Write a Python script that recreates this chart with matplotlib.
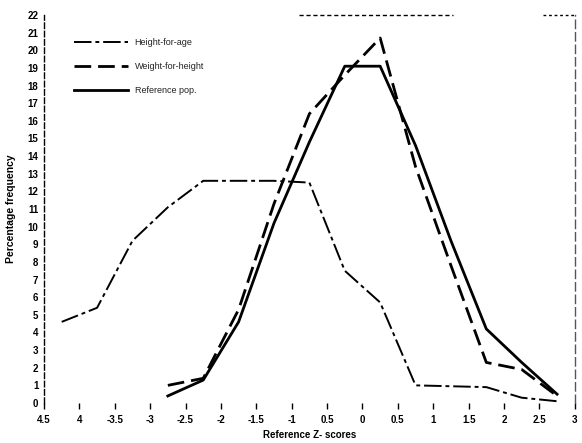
import matplotlib
matplotlib.use("Agg")
import matplotlib.pyplot as plt

plt.rcParams['font.family'] = ['Liberation Sans', 'DejaVu Sans']

# Data (bin midpoints of reference Z-scores)
hfa_z = [-4.25, -3.75, -3.25, -2.75, -2.25, -1.75, -1.25, -0.75, -0.25, 0.25, 0.75, 1.75, 2.25, 2.75]
hfa_v = [4.6, 5.4, 9.2, 11.1, 12.6, 12.6, 12.6, 12.5, 7.5, 5.7, 1.0, 0.9, 0.3, 0.1]

wfh_z = [-2.75, -2.25, -1.75, -1.25, -0.75, -0.25, 0.25, 0.75, 1.25, 1.75, 2.25, 2.75]
wfh_v = [1.0, 1.4, 5.3, 11.3, 16.4, 18.6, 20.7, 13.4, 7.8, 2.3, 1.9, 0.4]

ref_z = [-2.75, -2.25, -1.75, -1.25, -0.75, -0.25, 0.25, 0.75, 1.25, 1.75, 2.25, 2.75]
ref_v = [0.4, 1.3, 4.6, 10.2, 14.8, 19.1, 19.1, 14.6, 9.2, 4.2, 2.3, 0.5]

xticks = [-4.5, -4, -3.5, -3, -2.5, -2, -1.5, -1, -0.5, 0, 0.5, 1, 1.5, 2, 2.5, 3]
xtick_labels = ["4.5", "4", "-3.5", "-3", "-2.5", "-2", "-1.5", "-1", "0.5", "0",
                "0.5", "1", "1.5", "2", "2.5", "3"]
yticks = list(range(0, 23))

fig = plt.figure(figsize=(5.82, 4.43), dpi=100)
ax = fig.add_axes([0.0756, 0.0903, 0.912, 0.8757])

l1, = ax.plot(hfa_z, hfa_v, color='black', lw=1.4, dashes=(9, 2, 2, 2), label='Height-for-age')
l2, = ax.plot(wfh_z, wfh_v, color='black', lw=2.0, dashes=(6, 2.5), label='Weight-for-height')
l3, = ax.plot(ref_z, ref_v, color='black', lw=2.0, label='Reference pop.')

ax.set_xlim(-4.5, 3)
ax.set_ylim(0, 22)
ax.set_xticks(xticks)
ax.set_xticklabels(xtick_labels)
ax.set_yticks(yticks)
ax.tick_params(axis='x', length=4, width=1, pad=5, labelsize=7)
ax.tick_params(axis='y', length=0, pad=4, labelsize=7)
for lab in ax.get_xticklabels() + ax.get_yticklabels():
    lab.set_fontweight('bold')

ax.spines['bottom'].set_visible(False)
ax.spines['top'].set_visible(False)
ax.spines['left'].set_linestyle((0, (4, 2)))
ax.spines['left'].set_linewidth(1.0)
ax.spines['right'].set_linestyle((0, (6, 3)))
ax.spines['right'].set_color('#555555')
ax.spines['right'].set_linewidth(1.0)

# partial dotted top border (scan artefact)
ax.plot([0.48, 0.77], [1.0, 1.0], transform=ax.transAxes, color='black', lw=1.0,
        dashes=(3, 2), clip_on=False)
ax.plot([0.94, 1.0], [1.0, 1.0], transform=ax.transAxes, color='black', lw=1.0,
        dashes=(2, 2), clip_on=False)

ax.set_xlabel('Reference Z- scores', fontsize=7, fontweight='bold', labelpad=3)
ax.set_ylabel('Percentage frequency', fontsize=7.5, fontweight='bold', labelpad=8)

leg = ax.legend(handles=[l1, l2, l3], loc='upper left', bbox_to_anchor=(0.05, 0.95),
                borderaxespad=0, frameon=False, fontsize=6.5, handlelength=6.0,
                labelspacing=1.65, handletextpad=0.7)
for t in leg.get_texts():
    t.set_color('#222222')

fig.savefig('out.png', dpi=100)
